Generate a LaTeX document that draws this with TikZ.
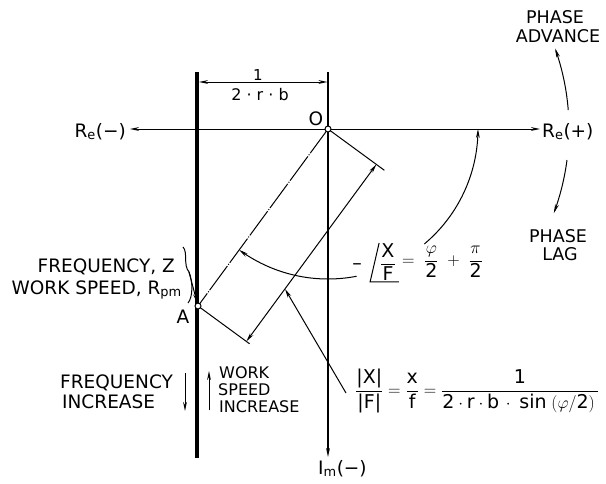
\documentclass[tikz,border=0pt]{standalone}
\usepackage{amsmath}
\usepackage{fontspec}
\setmainfont{DejaVu Sans}
\usetikzlibrary{arrows.meta}
\begin{document}
\begin{tikzpicture}[x=1pt,y=-1pt,
  >={Stealth[length=9pt,width=3.8pt]},
  lab/.style={font=\fontsize{18.5}{18}\selectfont, inner sep=0pt},
  labp/.style={font=\fontsize{17.5}{18}\selectfont, inner sep=0pt},
  labs/.style={font=\fontsize{16}{16}\selectfont, inner sep=0pt},
  labf/.style={font=\fontsize{19}{19}\selectfont, inner sep=0pt},
  thinl/.style={line width=1pt},
  dot/.style={circle, draw, fill=white, inner sep=0pt, minimum size=6pt, line width=1pt},
]
\useasboundingbox (0,0) rectangle (606,483);
% coordinates
\coordinate (cO) at (328,129);
\coordinate (cA) at (198,306);
\coordinate (ReL) at (130,129);
\coordinate (ReR) at (540,129);
\coordinate (ImT) at (328,72);
\coordinate (ImB) at (328,457);
\coordinate (LT) at (197,72);
\coordinate (LB) at (197,458);
\coordinate (dL) at (199,82);
\coordinate (dR) at (327.5,82);
\coordinate (eO) at (384.4,170.3);
\coordinate (eA) at (249.6,343.8);
\coordinate (mO) at (376.4,164.4);
\coordinate (mA) at (246.4,341.4);
\coordinate (lf) at (346,393);
\coordinate (lt) at (285,289);
% axes
\draw[thinl,<->] (ReL) -- (ReR);
\draw[line width=1.4pt,->] (ImT) -- (ImB);
\draw[line width=3.4pt] (LT) -- (LB);
\draw[thinl,<->] (dL) -- (dR);
% OA and its dimension
\draw[thinl, dash pattern=on 30pt off 1.5pt on 1pt off 1.5pt] (cO) -- (cA);
\draw[thinl] (cO) -- (eO);
\draw[thinl] (cA) -- (eA);
\draw[thinl,<->] (mA) -- (mO);
% angle arc
\draw[thinl,->] plot[domain=50:0, samples=40] ({328+150*cos(\x)},{129+150*sin(\x)});
\draw[thinl,->] plot[domain=79:126.3, samples=40] ({328+150*cos(\x)},{129+150*sin(\x)});
% phase arcs
\draw[thinl,->] plot[domain=-4.5:-19.5, samples=30] ({328+241*cos(\x)},{129+241*sin(\x)});
\draw[thinl,->] plot[domain=7.4:20.4, samples=30] ({328+241*cos(\x)},{129+241*sin(\x)});
% leader to dimension
\draw[thinl,->] (lf) -- (lt);
% points
\node[dot] (O) at (cO) {};
\node[dot] (A) at (cA) {};
% brace and leader to A
\coordinate (bt) at (189,272);
\draw[thinl] (183,247) .. controls (188,252) and (183,265) .. (bt) .. controls (193,282) and (193,297) .. (188,303);
\draw[thinl,->] (bt) -- (A);
% increase arrows
\coordinate (fa1) at (185,373); \coordinate (fa2) at (185,411);
\coordinate (wa1) at (209,410); \coordinate (wa2) at (209,371);
\draw[thinl,->] (fa1) -- (fa2);
\draw[thinl,->] (wa1) -- (wa2);
% labels
\node[lab, anchor=base] (oLab) at (316,125) {O};
\node[lab, anchor=base] (aLab) at (183,323) {A};
\node[lab, anchor=base east] (reM) at (126,137) {R\textsubscript{e}(−)};
\node[lab, anchor=base west] (reP) at (542,137) {R\textsubscript{e}(+)};
\node[lab, anchor=base west] (imM) at (318,474) {I\textsubscript{m}(−)};
\node[labp, anchor=base] (pa1) at (555,23) {PHASE};
\node[labp, anchor=base] (pa2) at (558,42) {ADVANCE};
\node[labp, anchor=base] (pl1) at (558,242) {PHASE};
\node[labp, anchor=base] (pl2) at (560,260) {LAG};
\node[lab, anchor=base east] (fz) at (175,272) {FREQUENCY, Z};
\node[lab, anchor=base east] (ws) at (182,294) {WORK SPEED, R\textsubscript{pm}};
\node[lab, anchor=base west] (fi1) at (60,388) {FREQUENCY};
\node[lab, anchor=base west] (fi2) at (62,408) {INCREASE};
\node[labs, anchor=base west] (wi1) at (219,378) {WORK};
\node[labs, anchor=base west] (wi2) at (218,395) {SPEED};
\node[labs, anchor=base west] (wi3) at (219,412) {INCREASE};
% dimension fraction
\node[font=\fontsize{15}{15}\selectfont, inner sep=0pt, anchor=base] (one) at (258,80) {1};
\node[labs, anchor=base] (den) at (260,100) {2 · r · b};
% angle formula
\node[labf, anchor=base] (minus) at (357,269) {–};
\node[labf] (xf) at (388,262) {$\dfrac{\mbox{X}}{\mbox{F}}$};
\draw[thinl] ([xshift=-1pt]xf.north west) -- ([xshift=-10pt,yshift=-1pt]xf.south west) -- ([xshift=3pt,yshift=-1pt]xf.south east);
\node[labf, anchor=west] (phi) at ([xshift=6pt]xf.east) {$=\;\dfrac{\varphi}{\mbox{2}} \;+\; \dfrac{\pi}{\mbox{2}}$};
% magnitude formula
\node[labf, anchor=west] (ff) at (355,391) {$\dfrac{\mbox{|X|}}{\mbox{|F|}} = \dfrac{\mbox{x}}{\mbox{f}} = \dfrac{\mbox{1}}{\mbox{2}\cdot\mbox{r}\cdot\mbox{b}\,\cdot\;\mbox{sin}\;(\varphi/\mbox{2})\,}$};
\end{tikzpicture}
\end{document}
